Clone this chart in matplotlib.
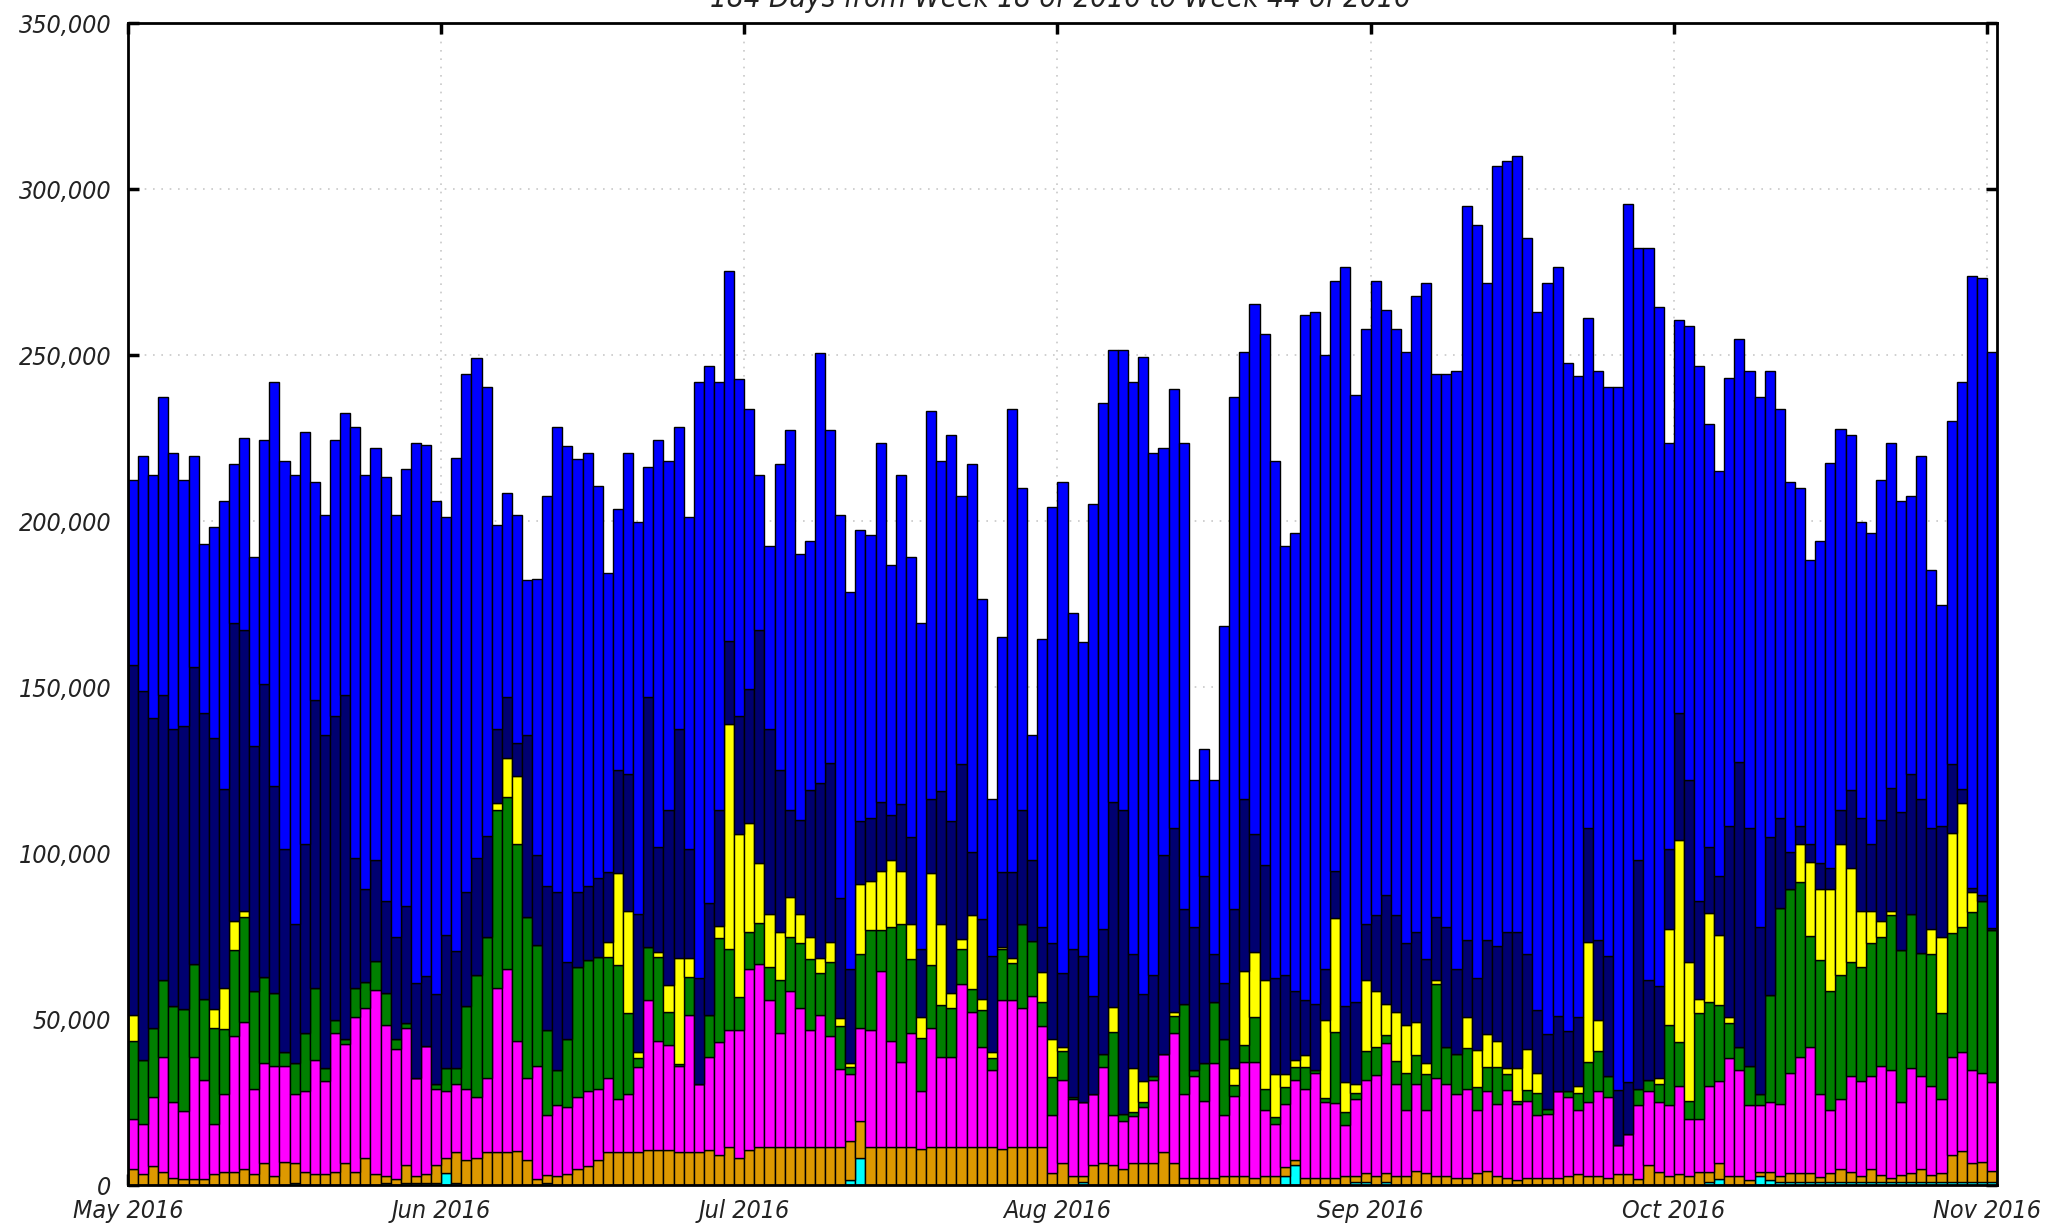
import datetime as dt

import matplotlib
matplotlib.use("Agg")
import matplotlib.pyplot as plt
import matplotlib.dates as mdates
from matplotlib import font_manager
from matplotlib.ticker import FuncFormatter, MultipleLocator
import numpy as np

# one bar per day, 1 May .. 1 Nov 2016; daily counts in thousands, stacked bottom to top
start = dt.date(2016, 5, 1)
title = "184 Days from Week 18 of 2016 to Week 44 of 2016"

cyan = [
    0, 0, 0, 0, 0, 0, 0, 0, 0, 0,
    0, 0, 0, 0, 0, 0, 0.5, 0, 0, 0,
    0, 0, 0, 0, 0, 0.7, 0, 0.7, 0.7, 0.7,
    0.7, 3.7, 0.7, 0, 0, 0, 0, 0, 0, 0,
    0, 0.7, 0, 0, 0, 0, 0, 0, 0, 0,
    0, 0, 0, 0, 0, 0, 0, 0, 0, 0,
    0, 0, 0, 0, 0, 0, 0, 0, 0, 0,
    0, 1.5, 8.1, 0, 0, 0, 0, 0, 0, 0,
    0, 0, 0, 0, 0, 0, 0, 0, 0, 0,
    0, 0, 0, 0, 0.9, 0, 0, 0, 0, 0,
    0, 0, 0, 0, 0, 0, 0, 0, 0, 0,
    0, 0, 0, 0, 2.6, 5.9, 0, 0, 0, 0,
    0, 0.9, 0.9, 0, 0.9, 0, 0, 0, 0, 0,
    0, 0, 0, 0, 0, 0, 0, 0, 0, 0,
    0, 0, 0, 0, 0, 0, 0, 0, 0, 0,
    0, 0, 0, 0, 0, 0, 0.9, 1.8, 0, 0,
    0, 2.6, 1.5, 1.0, 1.0, 1.0, 1.0, 1.0, 1.0, 1.0,
    1.0, 1.0, 1.0, 1.0, 1.0, 1.0, 1.0, 1.0, 1.0, 1.0,
    1.0, 1.0, 1.0, 1.0, 1.0,
]
orange = [
    4.8, 3.3, 5.6, 3.9, 2.2, 1.8, 1.8, 1.8, 3.3, 4.0,
    4.0, 4.8, 3.3, 6.7, 2.6, 7.0, 6.0, 4.0, 3.3, 3.3,
    4.0, 6.5, 4.0, 8.1, 3.3, 1.9, 1.8, 5.2, 1.9, 2.6,
    5.2, 4.4, 9.1, 7.4, 8.1, 9.8, 9.8, 9.8, 10.4, 7.4,
    1.8, 2.4, 2.6, 3.3, 4.8, 5.6, 7.4, 9.8, 9.8, 9.8,
    9.8, 10.6, 10.6, 10.6, 9.8, 9.8, 9.8, 10.6, 8.9, 11.5,
    8.1, 10.6, 11.5, 11.5, 11.5, 11.5, 11.5, 11.5, 11.5, 11.5,
    11.5, 11.7, 11.2, 11.5, 11.5, 11.5, 11.5, 11.5, 10.9, 11.5,
    11.5, 11.5, 11.5, 11.5, 11.5, 11.5, 10.9, 11.5, 11.5, 11.5,
    11.5, 3.5, 6.5, 2.6, 1.7, 5.9, 6.5, 5.9, 4.8, 6.5,
    6.5, 6.5, 9.8, 6.5, 2.0, 2.0, 2.0, 2.0, 2.6, 2.6,
    2.6, 2.0, 2.6, 2.6, 2.8, 1.7, 2.0, 2.0, 2.0, 2.0,
    2.6, 1.7, 2.8, 2.6, 2.8, 2.6, 2.6, 4.2, 3.7, 2.6,
    2.6, 2.0, 2.0, 3.5, 4.2, 2.6, 2.0, 1.5, 2.0, 2.0,
    2.0, 2.0, 2.6, 3.3, 2.6, 2.6, 2.0, 3.3, 3.3, 1.8,
    5.9, 3.9, 2.6, 3.3, 2.6, 3.9, 3.0, 4.9, 2.6, 2.6,
    1.5, 1.3, 2.4, 1.6, 2.7, 2.7, 2.7, 1.4, 2.5, 3.8,
    2.9, 1.8, 3.8, 2.1, 1.0, 2.1, 2.7, 3.8, 2.1, 2.7,
    7.9, 9.2, 5.7, 6.0, 3.2,
]
magenta = [
    15.1, 15.1, 21.0, 34.6, 22.7, 20.5, 36.7, 29.8, 15.1, 23.3,
    41.0, 44.3, 25.5, 30.2, 33.4, 29.0, 20.8, 24.2, 34.4, 27.9,
    41.8, 36.0, 46.6, 45.3, 55.6, 45.7, 39.3, 41.5, 29.5, 38.6,
    22.9, 20.1, 20.7, 21.4, 18.5, 22.3, 49.7, 55.3, 33.1, 24.7,
    34.2, 17.9, 21.5, 20.1, 21.8, 22.6, 21.6, 22.3, 16.0, 17.7,
    25.7, 45.0, 32.9, 31.6, 26.2, 41.5, 20.7, 27.9, 34.1, 35.2,
    38.6, 54.5, 55.0, 44.3, 34.3, 47.1, 41.8, 35.2, 39.8, 33.5,
    23.4, 20.1, 28.1, 35.2, 53.0, 31.8, 25.7, 34.3, 17.3, 35.9,
    27.0, 27.0, 49.1, 40.5, 30.1, 23.1, 44.7, 44.1, 41.8, 45.4,
    36.4, 17.5, 25.1, 23.2, 22.5, 21.4, 29.2, 15.1, 14.5, 14.3,
    16.9, 25.1, 29.6, 39.3, 25.3, 30.9, 23.4, 34.9, 18.4, 24.2,
    34.6, 35.2, 20.1, 15.9, 18.9, 24.0, 27.0, 31.8, 23.1, 22.6,
    15.6, 23.3, 27.9, 30.4, 39.0, 27.9, 20.1, 26.3, 19.0, 29.5,
    27.9, 25.3, 26.8, 19.2, 24.0, 21.7, 26.5, 22.8, 23.4, 19.0,
    19.5, 26.2, 24.0, 19.4, 22.3, 25.6, 24.6, 8.8, 12.1, 22.3,
    22.3, 21.0, 21.5, 26.4, 17.3, 16.0, 25.8, 24.7, 35.7, 32.0,
    22.6, 20.2, 21.0, 21.7, 30.1, 34.8, 37.9, 24.9, 19.2, 21.0,
    29.0, 28.5, 28.1, 32.9, 32.6, 21.8, 31.5, 28.1, 26.6, 22.1,
    29.6, 30.0, 27.9, 26.8, 26.8,
]
green = [
    23.6, 19.3, 20.8, 23.2, 29.0, 30.7, 28.0, 24.5, 29.0, 19.6,
    25.9, 31.6, 29.8, 25.7, 21.8, 4.2, 9.6, 17.6, 21.6, 4.1,
    3.9, 1.6, 8.7, 7.8, 8.6, 9.5, 3.0, 1.5, 0, 0,
    1.7, 7.1, 4.8, 25.2, 36.8, 42.7, 53.6, 51.9, 59.3, 48.6,
    36.3, 25.7, 10.5, 20.7, 39.2, 39.7, 39.8, 36.7, 40.4, 24.2,
    2.8, 16.2, 25.3, 9.8, 0.6, 11.3, 0, 12.8, 31.3, 24.5,
    10.0, 11.1, 12.5, 9.8, 15.9, 16.0, 19.6, 21.4, 12.7, 22.3,
    12.9, 2.4, 22.1, 30.1, 12.3, 34.3, 41.3, 22.3, 16.2, 19.0,
    15.6, 14.8, 10.6, 7.1, 11.2, 3.7, 15.6, 11.4, 25.2, 16.5,
    7.1, 11.4, 8.9, 0.8, 0, 0, 3.7, 25.1, 2.2, 1.2,
    1.5, 1.3, 0, 5.1, 27.2, 1.7, 11.5, 18.3, 23.1, 3.3,
    5.0, 13.4, 6.3, 1.9, 5.1, 4.1, 6.7, 0.8, 1.1, 21.5,
    3.9, 1.8, 8.9, 8.6, 2.5, 6.9, 11.1, 8.6, 10.6, 28.5,
    11.1, 12.1, 12.5, 6.7, 7.5, 11.4, 4.8, 1.1, 3.1, 6.7,
    1.5, 0, 1.7, 5.0, 12.3, 12.3, 6.1, 0, 0, 4.7,
    3.4, 5.6, 24.2, 13.3, 5.5, 31.8, 25.5, 22.7, 10.6, 7.0,
    11.9, 3.2, 32.4, 59.2, 55.5, 52.8, 33.5, 40.6, 35.7, 37.6,
    34.4, 34.3, 40.0, 38.8, 46.7, 46.0, 46.4, 36.9, 39.8, 25.9,
    37.4, 37.5, 47.8, 51.9, 45.8,
]
yellow = [
    7.8, 0, 0, 0, 0, 0, 0, 0, 5.6, 12.4,
    8.7, 1.9, 0, 0, 0, 0, 0, 0, 0, 0,
    0, 0, 0, 0, 0, 0, 0, 0, 0, 0,
    0, 0, 0, 0, 0, 0, 1.9, 11.7, 20.3, 0,
    0, 0, 0, 0, 0, 0, 0, 4.3, 27.7, 31.0,
    1.9, 0, 1.3, 8.3, 31.8, 5.8, 0, 0, 3.6, 67.8,
    49.1, 32.8, 18.0, 16.2, 14.5, 12.2, 8.9, 6.7, 4.4, 5.8,
    2.5, 1.1, 21.2, 14.8, 17.8, 20.2, 16.1, 10.4, 6.2, 27.5,
    24.4, 4.5, 2.8, 22.3, 3.3, 1.7, 0.6, 1.4, 0, 0,
    9.2, 11.7, 1.1, 0, 0, 0, 0, 7.6, 0, 13.2,
    6.4, 0, 0, 1.3, 0, 0, 0, 0, 0, 5.1,
    22.3, 19.5, 32.7, 13.1, 4.1, 2.0, 3.4, 0, 23.6, 34.3,
    8.9, 2.8, 21.2, 17.0, 9.3, 14.8, 14.5, 10.0, 3.5, 1.3,
    0, 0, 9.3, 11.3, 9.8, 7.6, 1.9, 9.8, 12.6, 6.1,
    0, 0, 0, 2.0, 35.9, 9.2, 0, 0, 0, 0,
    0, 1.7, 28.8, 60.8, 41.9, 4.4, 26.8, 21.3, 1.7, 0,
    0, 0, 0, 0, 0, 11.5, 22.1, 21.4, 30.7, 39.4,
    28.2, 17.1, 9.8, 4.8, 1.4, 0, 0, 0, 7.5, 23.1,
    30.1, 37.4, 5.8, 0, 0,
]
navy = [
    105.3, 111.1, 93.2, 86.0, 83.5, 85.2, 89.5, 86.0, 81.8, 60.1,
    89.8, 84.6, 73.8, 88.2, 62.5, 60.9, 41.6, 57.0, 86.9, 100.3,
    91.6, 103.6, 39.2, 27.9, 30.3, 27.9, 30.5, 35.1, 28.8, 21.2,
    27.0, 40.0, 35.1, 34.2, 35.1, 30.4, 22.3, 18.4, 10.0, 54.9,
    27.1, 43.3, 53.6, 23.2, 22.4, 22.1, 23.6, 21.2, 31.2, 41.0,
    41.4, 75.3, 31.8, 52.8, 69.0, 32.7, 32.0, 33.6, 35.2, 24.8,
    35.5, 40.3, 70.2, 55.6, 48.9, 26.3, 28.1, 44.2, 52.7, 53.9,
    36.3, 28.3, 19.0, 19.0, 20.9, 13.8, 20.1, 26.4, 20.6, 22.3,
    40.1, 51.9, 52.7, 18.8, 24.0, 29.0, 22.5, 25.9, 34.6, 24.4,
    13.4, 28.8, 22.4, 44.6, 43.9, 29.7, 37.6, 61.8, 91.6, 34.3,
    26.2, 30.3, 60.0, 55.3, 28.8, 43.0, 56.1, 14.3, 16.7, 48.1,
    51.7, 35.7, 34.6, 29.0, 29.7, 20.7, 16.7, 19.9, 15.3, 14.2,
    22.9, 24.7, 17.0, 22.7, 32.9, 29.1, 24.6, 27.1, 31.4, 19.0,
    36.0, 25.7, 23.2, 21.8, 28.3, 28.7, 41.0, 41.0, 28.4, 19.0,
    22.5, 22.6, 18.1, 20.9, 34.4, 24.1, 36.3, 16.5, 15.6, 69.0,
    30.1, 27.8, 24.0, 38.5, 54.7, 29.6, 19.9, 17.6, 57.7, 86.0,
    71.5, 50.3, 47.6, 27.1, 10.9, 5.5, 5.6, 7.6, 6.4, 10.3,
    23.5, 27.9, 20.1, 30.3, 36.8, 41.4, 42.1, 46.6, 30.5, 33.5,
    20.7, 4.1, 1.4, 1.7, 0.5,
]
blue = [
    55.8, 70.7, 73.3, 89.7, 83.1, 74.2, 63.5, 51.1, 63.4, 86.6,
    47.8, 58.0, 56.8, 73.6, 121.6, 116.9, 135.4, 124.1, 65.5, 66.3,
    83.1, 84.8, 129.9, 124.8, 124.2, 127.5, 127.3, 131.7, 162.8, 159.8,
    148.5, 125.9, 148.5, 156.2, 150.7, 135.2, 61.6, 61.3, 68.8, 46.6,
    83.3, 117.7, 140.2, 155.4, 130.5, 130.4, 118.3, 90.1, 78.6, 96.8,
    118.1, 69.3, 122.5, 104.9, 91.0, 100.1, 179.4, 161.8, 128.8, 111.6,
    101.6, 84.6, 46.7, 55.0, 92.1, 114.4, 80.1, 74.9, 129.6, 100.5,
    115.3, 113.6, 87.5, 85.1, 108.2, 75.1, 99.2, 84.3, 98.0, 117.0,
    99.4, 116.3, 81.0, 117.0, 96.4, 47.4, 70.9, 139.6, 96.9, 37.8,
    86.8, 131.5, 147.7, 101.2, 94.5, 148.2, 158.7, 136.2, 138.6, 172.4,
    191.9, 157.3, 122.6, 132.2, 140.4, 44.4, 38.5, 52.5, 107.7, 154.1,
    134.7, 159.6, 160.2, 155.5, 129.2, 138.0, 206.4, 208.4, 184.9, 177.8,
    222.6, 182.8, 179.3, 191.1, 176.3, 176.7, 178.0, 191.5, 203.5, 163.5,
    166.8, 180.1, 221.1, 226.7, 197.9, 234.9, 232.2, 233.8, 215.9, 210.1,
    226.2, 225.7, 201.3, 193.1, 153.7, 171.4, 171.4, 211.8, 264.7, 184.4,
    220.5, 204.4, 122.6, 118.2, 136.7, 161.2, 127.5, 122.0, 134.7, 127.3,
    137.7, 159.8, 140.3, 123.3, 111.5, 101.7, 85.6, 97.0, 121.9, 114.6,
    107.0, 89.1, 93.6, 102.6, 104.2, 93.7, 84.0, 103.1, 77.7, 66.4,
    103.5, 122.7, 184.4, 185.8, 173.6,
]

layers = [
    (cyan, "#00ffff"),
    (orange, "#dd9900"),
    (magenta, "#ff00ff"),
    (green, "#008000"),
    (yellow, "#ffff00"),
    (navy, "#000070"),
    (blue, "#0000ff"),
]

# narrow oblique face for all text; fall back to a smaller regular one
fonts = font_manager.fontManager.ttflist
narrow = [f for f in fonts if f.name == "Liberation Sans Narrow"]
condensed = [f for f in fonts if f.name == "DejaVu Sans" and f.stretch == "condensed"]
if narrow:
    plt.rcParams["font.family"] = ["Liberation Sans Narrow", "DejaVu Sans"]
    size = 20
elif condensed:
    plt.rcParams["font.family"] = ["DejaVu Sans"]
    plt.rcParams["font.stretch"] = "condensed"
    size = 18
else:
    plt.rcParams["font.family"] = ["DejaVu Sans"]
    size = 16
plt.rcParams["font.style"] = "italic"

n_days = len(blue)
x = mdates.date2num([start + dt.timedelta(days=i) for i in range(n_days)])

fig = plt.figure(figsize=(20.47, 12.28), dpi=100)
ax = fig.add_axes([0.0625, 0.035, 0.9131, 0.946])

bottom = np.zeros(n_days)
for values, color in layers:
    h = np.array(values) * 1000
    ax.bar(x, h, width=1.0, bottom=bottom, align="edge", color=color,
           edgecolor="black", linewidth=1.0, zorder=2)
    bottom += h

ax.set_xlim(x[0], x[-1] + 1)
ax.set_ylim(0, 350000)

ax.xaxis.set_major_locator(mdates.MonthLocator())
ax.xaxis.set_major_formatter(mdates.DateFormatter("%b %Y"))
ax.yaxis.set_major_locator(MultipleLocator(50000))
ax.yaxis.set_major_formatter(FuncFormatter(lambda v, p: f"{v:,.0f}"))

ax.tick_params(which="major", direction="in", length=8, width=2.5,
               top=True, right=True, labelsize=size, colors="black",
               labelcolor="#222222")
ax.tick_params(axis="y", pad=12)
ax.tick_params(axis="x", pad=10)
ax.grid(True, color="#c8c8c8", linestyle=(0, (1, 4)), linewidth=1.2, zorder=0)
ax.set_axisbelow(True)
for spine in ax.spines.values():
    spine.set_linewidth(2)
    spine.set_zorder(3)

# title sits mostly above the top edge of the figure
fig.text(0.518, 1 - 7 / 1228, title, ha="center", va="baseline",
         fontsize=size * 1.18, color="#222222")

fig.savefig("out.png", dpi=100)
